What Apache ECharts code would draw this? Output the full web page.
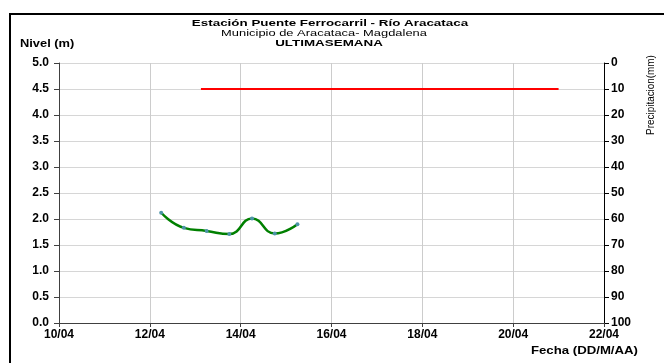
<!DOCTYPE html>
<html><head><meta charset="utf-8">
<script src="https://cdn.jsdelivr.net/npm/echarts@6/dist/echarts.min.js"></script>
<style>html,body{margin:0;padding:0;background:#fff}#c{width:664px;height:363px}</style>
</head><body><div id="c"></div>
<script>
// Data
const fechaInicio = [10, 4];            // day, month of x-axis min (10/04)
const diasEje = 12;                      // 10/04 .. 22/04
const fechas = ['12/04 06:00','12/04 18:00','13/04 06:00','13/04 18:00','14/04 06:00','14/04 18:00','15/04 06:00'];
const nivel = [2.12, 1.83, 1.77, 1.71, 2.01, 1.72, 1.90];
const umbralFechas = ['13/04 03:00','21/04 00:00'];
const umbral = [4.5, 4.5];
const titulo = 'Estación Puente Ferrocarril - Río Aracataca';
const subtitulo1 = 'Municipio de Aracataca- Magdalena';
const subtitulo2 = 'ULTIMASEMANA';

function toDays(s){
  const [d, t] = s.split(' ');
  const [dd, mm] = d.split('/').map(Number);
  const [hh, mi] = t.split(':').map(Number);
  return (dd - fechaInicio[0]) + (hh + mi/60)/24;
}
function dayLabel(v){
  const dd = fechaInicio[0] + Math.round(v);
  return String(dd).padStart(2,'0') + '/' + String(fechaInicio[1]).padStart(2,'0');
}
const nivelData = fechas.map((f,i)=>[toDays(f), nivel[i]]);
const umbralData = umbralFechas.map((f,i)=>[toDays(f), umbral[i]]);

const FF = 'Liberation Sans, Arial, sans-serif';
function txt(x, y, text, font, align, sx, sy){
  return {type:'text', x:x, y:y, scaleX:sx || 1, scaleY:sy || 1,
    style:{text:text, font:font, fill:'#000', textAlign:align, textVerticalAlign:'middle'}};
}
const chart = echarts.init(document.getElementById('c'), null, {renderer:'canvas'});
chart.setOption({
  animation:false,
  backgroundColor:'#fff',
  graphic:[
    {type:'rect', shape:{x:10,y:14,width:700,height:400}, style:{fill:'none', stroke:'#000', lineWidth:2}},
    txt(330, 23.5, titulo, 'bold 10px '+FF, 'center', 1.34, 0.92),
    txt(324, 33.5, subtitulo1, '10px '+FF, 'center', 1.29, 0.92),
    txt(329, 43.5, subtitulo2, 'bold 10px '+FF, 'center', 1.34, 0.92),
    txt(20, 44, 'Nivel (m)', 'bold 11px '+FF, 'left', 1.17),
    txt(638, 351, 'Fecha (DD/M/AA)', 'bold 11px '+FF, 'right', 1.2),
    {type:'text', x:651, y:95, rotation:Math.PI/2, scaleX:0.9,
     style:{text:'Precipitacion(mm)', font:'11px '+FF, fill:'#000', textAlign:'center', textVerticalAlign:'middle'}}
  ],
  grid:{left:59, right:60, top:63, bottom:40, containLabel:false},
  xAxis:{
    type:'value', min:0, max:diasEje, interval:2,
    axisLine:{show:true, onZero:false, lineStyle:{color:'#404040', width:1}},
    axisTick:{show:true, length:4, lineStyle:{color:'#404040'}},
    axisLabel:{formatter:dayLabel, color:'#000', fontWeight:'bold', fontSize:12, fontFamily:FF, margin:6},
    splitLine:{show:true, lineStyle:{color:'#cccccc', width:1}}
  },
  yAxis:[
    {type:'value', min:0, max:5, interval:0.5, position:'left',
     axisLine:{show:true, lineStyle:{color:'#404040', width:1}},
     axisTick:{show:true, length:5, lineStyle:{color:'#404040'}},
     axisLabel:{formatter:v=>v.toFixed(1), color:'#000', fontWeight:'bold', fontSize:12, fontFamily:FF, margin:10},
     splitLine:{show:true, lineStyle:{color:'#d6d6d6', width:1}}
    },
    {type:'value', min:0, max:100, interval:10, position:'right', inverse:true,
     axisLine:{show:true, lineStyle:{color:'#000', width:1}},
     axisTick:{show:true, length:5, lineStyle:{color:'#000'}},
     axisLabel:{color:'#000', fontWeight:'bold', fontSize:12, fontFamily:FF, margin:7},
     splitLine:{show:false}
    }
  ],
  series:[
    {type:'line', yAxisIndex:0, data:umbralData, symbol:'none', lineStyle:{color:'#ff0000', width:2}},
    {type:'line', yAxisIndex:0, data:nivelData, smooth:0.5, symbol:'circle', symbolSize:4,
     lineStyle:{color:'#008000', width:2.5}, itemStyle:{color:'#4d94a8', borderWidth:0}}
  ]
});
</script></body></html>
